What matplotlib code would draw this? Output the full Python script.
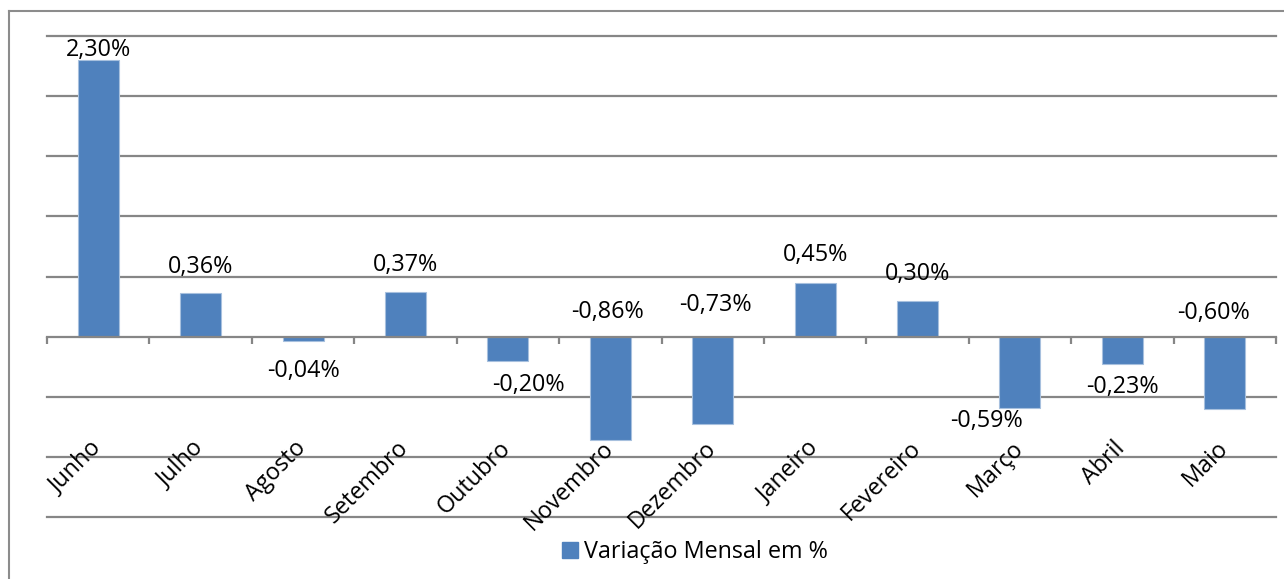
import matplotlib
matplotlib.use("Agg")
import matplotlib.pyplot as plt
from matplotlib.patches import Patch
from matplotlib.lines import Line2D
import numpy as np

# dados do gráfico
meses = ["Junho", "Julho", "Agosto", "Setembro", "Outubro", "Novembro",
         "Dezembro", "Janeiro", "Fevereiro", "Março", "Abril", "Maio"]
variacao = [2.30, 0.36, -0.04, 0.37, -0.20, -0.86,
            -0.73, 0.45, 0.30, -0.59, -0.23, -0.60]
rotulos = ["2,30%", "0,36%", "-0,04%", "0,37%", "-0,20%", "-0,86%",
           "-0,73%", "0,45%", "0,30%", "-0,59%", "-0,23%", "-0,60%"]

# posição dos rótulos de dados (estilo)
base_rotulo = ["end", "end", "end", "end", "end", "zero",
               "zero", "end", "end", "end", "end", "zero"]
dy_rotulo = [10, 26, -30, 27, -24, 25, 32, 28, 27, -13, -23, 24]
dx_rotulo = [0, 0, 0, 0, 21, -3, 3, 0, 0, -33, 0, -11]

fonte = "Open Sans"
tam = 16.8
azul = "#4F81BD"
cinza = "#868686"

fig = plt.figure(figsize=(12.84, 5.79), dpi=100)
ax = fig.add_axes([47 / 1284, 1 - 517 / 579, (1276 - 47) / 1284, (517 - 36) / 579])
ax.set_xlim(-0.5, len(meses) - 0.5)
ax.set_ylim(-1.5, 2.5)

for v in np.arange(-1.5, 2.51, 0.5):
    if abs(v) > 1e-9:
        ax.axhline(v, color=cinza, lw=1.6, zorder=1, clip_on=False)

x = np.arange(len(meses))
ax.bar(x, variacao, width=0.4, color=azul, edgecolor="#A7C0DE", linewidth=0.8, zorder=2)

for s in ["top", "right", "left"]:
    ax.spines[s].set_visible(False)
ax.spines["bottom"].set_position(("data", 0))
ax.spines["bottom"].set_color(cinza)
ax.spines["bottom"].set_linewidth(1.6)
ax.spines["bottom"].set_zorder(3)
ax.set_xticks(np.arange(-0.5, len(meses), 1.0))
ax.tick_params(axis="x", direction="out", length=5, width=1.6, color=cinza,
               labelbottom=False)
ax.set_yticks([])

for i in range(len(meses)):
    y0 = variacao[i] if base_rotulo[i] == "end" else 0
    ax.annotate(rotulos[i], (i, y0), xytext=(dx_rotulo[i], dy_rotulo[i]),
                textcoords="offset pixels", ha="center", va="center",
                fontsize=tam, family=fonte, color="black", zorder=4)

trans = ax.get_xaxis_transform()
for i, m in enumerate(meses):
    ax.annotate(m, (i, 0.168), xycoords=trans, xytext=(8, 0),
                textcoords="offset pixels", rotation=45, ha="right", va="top",
                fontsize=tam, family=fonte, color="black")

h = Patch(facecolor=azul, edgecolor=azul)
fig.legend([h], ["Variação Mensal em %"], loc="center",
           bbox_to_anchor=(695 / 1284, 1 - 552 / 579), frameon=False,
           prop={"family": fonte, "size": tam}, handlelength=0.7,
           handleheight=0.7, handletextpad=0.25, borderpad=0)

# moldura externa
fig.add_artist(Line2D([9 / 1284, 9 / 1284], [0, 1 - 11 / 579], color="#8C8C8C", lw=1.5))
fig.add_artist(Line2D([9 / 1284, 1], [1 - 11 / 579, 1 - 11 / 579], color="#8C8C8C", lw=1.5))

fig.savefig("out.png", dpi=100)
